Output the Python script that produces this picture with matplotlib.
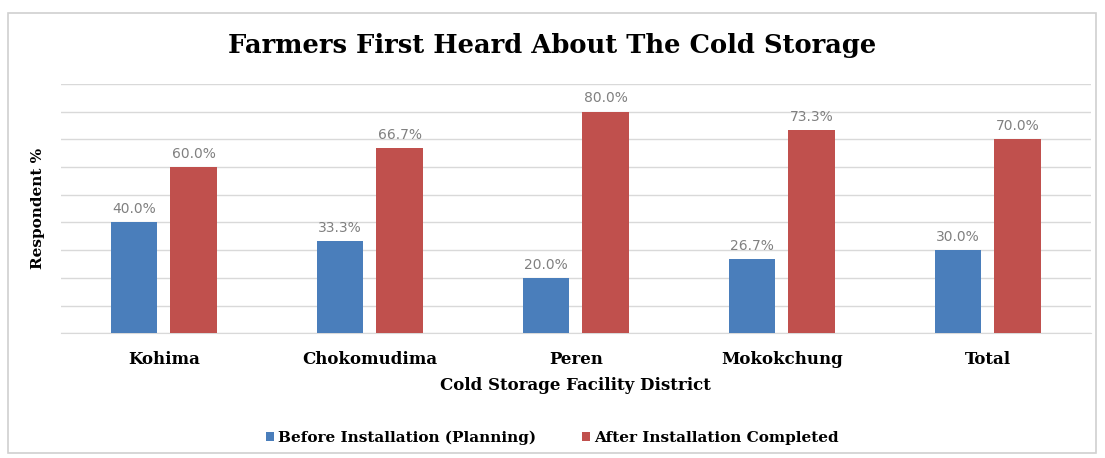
import numpy as np
import matplotlib.pyplot as plt
from matplotlib.patches import Rectangle

districts = ['Kohima', 'Chokomudima', 'Peren', 'Mokokchung', 'Total']
before = [40.0, 33.3, 20.0, 26.7, 30.0]
after = [60.0, 66.7, 80.0, 73.3, 70.0]

blue = '#4A7EBB'
red = '#C0504D'
serif = 'DejaVu Serif'

fig = plt.figure(figsize=(11.05, 4.58), dpi=100)
ax = fig.add_axes([0.055, 0.272, 0.932, 0.545])

# light frame round the whole chart
fig.patches.append(Rectangle((0.007, 0.01), 0.985, 0.962, transform=fig.transFigure,
                             fill=False, edgecolor='#d0d0d0', linewidth=1.2))

x = np.arange(len(districts))
w = 0.225
off = 0.145
b1 = ax.bar(x - off, before, w, color=blue, label='Before Installation (Planning)', zorder=3)
b2 = ax.bar(x + off, after, w, color=red, label='After Installation Completed', zorder=3)

for bars in (b1, b2):
    for r in bars:
        h = r.get_height()
        ax.text(r.get_x() + r.get_width() / 2, h + 2.2, f'{h:.1f}%', ha='center', va='bottom',
                fontsize=10, color='#808080')

ax.set_xlim(-0.5, len(districts) - 0.5)
ax.set_ylim(0, 90)
ax.set_yticks(np.arange(0, 91, 10))
ax.set_yticklabels([])
ax.tick_params(axis='y', length=0)
ax.tick_params(axis='x', length=0, pad=13)
ax.grid(axis='y', color='#d9d9d9', linewidth=1, zorder=0)
for s in ['top', 'right', 'left']:
    ax.spines[s].set_visible(False)
ax.spines['bottom'].set_color('#d9d9d9')

ax.set_xticks(x)
ax.set_xticklabels(districts, fontsize=12, fontweight='bold', family=serif)
ax.set_xlabel('Cold Storage Facility District', fontsize=12, fontweight='bold', family=serif, labelpad=6)
ax.set_ylabel('Respondent %', fontsize=11, fontweight='bold', family=serif, labelpad=8)

fig.text(0.5, 0.9, 'Farmers First Heard About The Cold Storage', ha='center', va='center',
         fontsize=18.5, fontweight='bold', family=serif)

fig.legend(handles=[b1, b2], loc='center', bbox_to_anchor=(0.5, 0.045), ncol=2, frameon=False,
           handlelength=0.5, handleheight=0.5, handletextpad=0.3, columnspacing=3,
           prop={'family': serif, 'weight': 'bold', 'size': 11})

fig.savefig('out.png', dpi=100)
